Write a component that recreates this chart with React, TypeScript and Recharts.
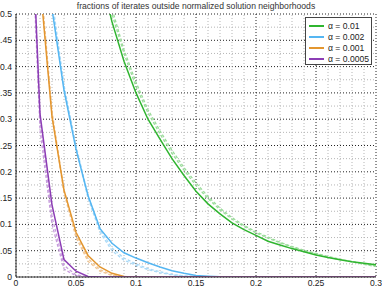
import React from 'react';
import { LineChart, Line, XAxis, YAxis, CartesianGrid, ReferenceLine } from 'recharts';

const title = 'fractions of iterates outside normalized solution neighborhoods';

const xs = [0.01, 0.02, 0.03, 0.04, 0.05, 0.06, 0.07, 0.08, 0.09, 0.1, 0.11, 0.12, 0.13, 0.14, 0.15,
  0.16, 0.17, 0.18, 0.19, 0.2, 0.21, 0.22, 0.23, 0.24, 0.25, 0.26, 0.27, 0.28, 0.29, 0.3];

const n = null;
// alpha = 0.01
const green = [n, n, n, n, n, n, 0.58, 0.485, 0.41, 0.35, 0.3, 0.262, 0.225, 0.193, 0.163,
  0.139, 0.12, 0.103, 0.09, 0.079, 0.068, 0.061, 0.054, 0.048, 0.042, 0.037, 0.033, 0.029, 0.026, 0.0235];
const greenA = [n, n, n, n, n, n, 0.6, 0.5, 0.425, 0.362, 0.312, 0.272, 0.235, 0.203, 0.174,
  0.149, 0.128, 0.11, 0.096, 0.084, 0.074, 0.065, 0.057, 0.05, 0.044, 0.038, 0.033, 0.029, 0.025, 0.021];
const greenB = [n, n, n, n, n, n, 0.61, 0.51, 0.432, 0.37, 0.318, 0.278, 0.241, 0.208, 0.179,
  0.153, 0.131, 0.113, 0.098, 0.086, 0.076, 0.066, 0.058, 0.051, 0.045, 0.039, 0.034, 0.029, 0.024, 0.02];
// alpha = 0.002
const blue = [n, 0.72, 0.51, 0.355, 0.243, 0.155, 0.092, 0.064, 0.046, 0.036, 0.027, 0.019, 0.012, 0.007, 0.003,
  0.0015, 0.0005, 0, 0, 0, 0, 0, 0, 0, 0, 0, 0, 0, 0, 0];
const blueA = [n, 0.74, 0.52, 0.36, 0.245, 0.15, 0.085, 0.05, 0.032, 0.022, 0.014, 0.008, 0.004, 0.002, 0.001,
  0, 0, 0, 0, 0, 0, 0, 0, 0, 0, 0, 0, 0, 0, 0];
const blueB = [n, 0.75, 0.53, 0.365, 0.25, 0.155, 0.09, 0.055, 0.036, 0.025, 0.016, 0.01, 0.005, 0.002, 0.001,
  0, 0, 0, 0, 0, 0, 0, 0, 0, 0, 0, 0, 0, 0, 0];
// alpha = 0.001
const orange = [0.95, 0.56, 0.305, 0.165, 0.085, 0.041, 0.019, 0.007, 0.001, 0, 0, 0, 0, 0, 0,
  0, 0, 0, 0, 0, 0, 0, 0, 0, 0, 0, 0, 0, 0, 0];
const orangeA = [0.97, 0.57, 0.31, 0.16, 0.075, 0.03, 0.011, 0.003, 0, 0, 0, 0, 0, 0, 0,
  0, 0, 0, 0, 0, 0, 0, 0, 0, 0, 0, 0, 0, 0, 0];
const orangeB = [0.98, 0.58, 0.315, 0.165, 0.08, 0.035, 0.014, 0.004, 0.001, 0, 0, 0, 0, 0, 0,
  0, 0, 0, 0, 0, 0, 0, 0, 0, 0, 0, 0, 0, 0, 0];
// alpha = 0.0005
const purple = [0.85, 0.31, 0.137, 0.033, 0.011, 0.001, 0, 0, 0, 0, 0, 0, 0, 0, 0,
  0, 0, 0, 0, 0, 0, 0, 0, 0, 0, 0, 0, 0, 0, 0];
const purpleA = [0.82, 0.28, 0.1, 0.015, 0.002, 0, 0, 0, 0, 0, 0, 0, 0, 0, 0,
  0, 0, 0, 0, 0, 0, 0, 0, 0, 0, 0, 0, 0, 0, 0];
const purpleB = [0.84, 0.3, 0.115, 0.022, 0.004, 0, 0, 0, 0, 0, 0, 0, 0, 0, 0,
  0, 0, 0, 0, 0, 0, 0, 0, 0, 0, 0, 0, 0, 0, 0];

const xTicks = [0, 0.05, 0.1, 0.15, 0.2, 0.25, 0.3];
const yTicks = [0, 0.05, 0.1, 0.15, 0.2, 0.25, 0.3, 0.35, 0.4, 0.45, 0.5];
const xMinor = [0.01, 0.02, 0.03, 0.04, 0.06, 0.07, 0.08, 0.09, 0.11, 0.12, 0.13, 0.14, 0.16, 0.17, 0.18, 0.19,
  0.21, 0.22, 0.23, 0.24, 0.26, 0.27, 0.28, 0.29];
const yMinor = [0.025, 0.075, 0.125, 0.175, 0.225, 0.275, 0.325, 0.375, 0.425, 0.475];

const legendLabels = ['α = 0.01', 'α = 0.002', 'α = 0.001', 'α = 0.0005'];
const solidColors = ['#2fb52f', '#55b6f2', '#e3962f', '#8c3db5'];
const dashColors = ['#9adb9a', '#a9d9f7', '#f0c593', '#c79ddc'];

const data = xs.map((x, i) => ({
  x,
  g: green[i], gA: greenA[i], gB: greenB[i],
  b: blue[i], bA: blueA[i], bB: blueB[i],
  o: orange[i], oA: orangeA[i], oB: orangeB[i],
  p: purple[i], pA: purpleA[i], pB: purpleB[i],
}));

const seriesKeys = [['g', 'gA', 'gB'], ['b', 'bA', 'bB'], ['o', 'oA', 'oB'], ['p', 'pA', 'pB']];

const font = '"Liberation Sans", Arial, sans-serif';
const fmt = (v: number) => String(v);

export default function App() {
  return (
    <div style={{ position: 'absolute', left: 0, top: 0, width: 382, height: 287, background: '#fff', fontFamily: font }}>
      <div style={{ position: 'absolute', left: 16, width: 360, top: 0, textAlign: 'center', fontSize: 8.6, color: '#333', lineHeight: '12px' }}>
        {title}
      </div>
      <LineChart width={382} height={287} data={data} margin={{ top: 14, right: 6, left: 0, bottom: 0 }}>
        {xMinor.map((v) => (
          <ReferenceLine key={'xm' + v} x={v} stroke="#b5b5b5" strokeDasharray="1 2" />
        ))}
        {yMinor.map((v) => (
          <ReferenceLine key={'ym' + v} y={v} stroke="#b5b5b5" strokeDasharray="1 2" />
        ))}
        <CartesianGrid stroke="#222" strokeDasharray="1 2" />
        <XAxis
          dataKey="x"
          type="number"
          domain={[0, 0.3]}
          ticks={xTicks}
          tickFormatter={fmt}
          tick={{ fill: '#222', fontSize: 8.6, fontFamily: font }}
          tickLine={false}
          tickSize={0}
          tickMargin={3}
          height={10}
          stroke="#333"
          interval={0}
        />
        <YAxis
          type="number"
          domain={[0, 0.5]}
          ticks={yTicks}
          allowDataOverflow
          tickFormatter={fmt}
          tick={{ fill: '#222', fontSize: 8.6, fontFamily: font }}
          tickLine={false}
          tickSize={0}
          tickMargin={4}
          width={16}
          stroke="#333"
          interval={0}
        />
        {seriesKeys.map((keys, i) => (
          <React.Fragment key={'d' + i}>
            <Line dataKey={keys[1]} stroke={dashColors[i]} strokeWidth={1.3} strokeDasharray="3 2" dot={false} isAnimationActive={false} />
            <Line dataKey={keys[2]} stroke={dashColors[i]} strokeWidth={1.3} strokeDasharray="3 2" dot={false} isAnimationActive={false} />
          </React.Fragment>
        ))}
        {seriesKeys.map((keys, i) => (
          <Line key={'s' + i} dataKey={keys[0]} stroke={solidColors[i]} strokeWidth={1.5} dot={false} isAnimationActive={false} />
        ))}
      </LineChart>
      <div style={{ position: 'absolute', left: 305, top: 17, width: 65, height: 46, border: '1px solid #444', background: '#fff' }}>
        {legendLabels.map((label, i) => (
          <div key={label} style={{ position: 'absolute', left: 3, top: 2 + i * 11, height: 11, display: 'flex', alignItems: 'center' }}>
            <div style={{ width: 15, height: 2, background: solidColors[i], marginRight: 4 }} />
            <span style={{ fontSize: 8.6, color: '#222', whiteSpace: 'nowrap' }}>{label}</span>
          </div>
        ))}
      </div>
    </div>
  );
}
